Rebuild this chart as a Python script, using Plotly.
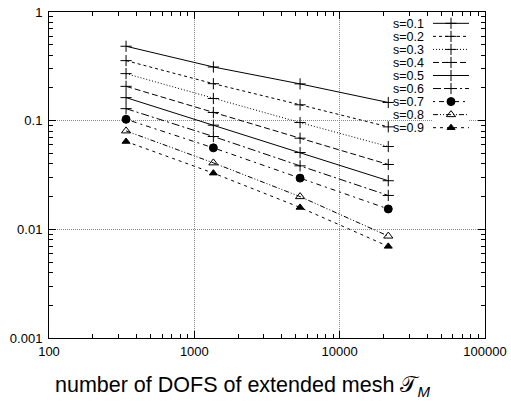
import plotly.graph_objects as go

dofs = [339, 1352, 5340, 21600]
labels = ["s=0.1", "s=0.2", "s=0.3", "s=0.4", "s=0.5", "s=0.6", "s=0.7", "s=0.8", "s=0.9"]
errors = [
    [0.484, 0.312, 0.218, 0.147],
    [0.357, 0.219, 0.140, 0.0877],
    [0.271, 0.160, 0.0961, 0.0578],
    [0.207, 0.119, 0.069, 0.0395],
    [0.163, 0.0909, 0.0509, 0.028],
    [0.129, 0.0715, 0.0384, 0.0205],
    [0.103, 0.0562, 0.0296, 0.0154],
    [0.0805, 0.0409, 0.0200, 0.00867],
    [0.0643, 0.0329, 0.0159, 0.00697],
]
xtick_vals = [100, 1000, 10000, 100000]
xtick_text = ["100", "1000", "10000", "100000"]
ytick_vals = [0.001, 0.01, 0.1, 1]
ytick_text = ["0.001", "0.01", "0.1", "1"]
x_title = "number of DOFS of extended mesh 𝒯<sub><i>M</i></sub>"

dashes = ["solid", "3px,3px", "1px,2px", "6px,3px", "solid",
          "8px,3px,2px,3px", "2px,4px,5px,4px", "5px,2px,1px,2px,1px,2px", "3px,4px"]
symbols = ["cross-thin", "cross-thin", "cross-thin", "cross-thin", "cross-thin",
           "cross-thin", "circle", "triangle-up-open", "triangle-up"]
sizes = [8, 8, 8, 8, 8, 8, 8, 8, 7]

W, H = 511, 403
L, R, T, B = 49, 26, 12, 65
pw, ph = W - L - R, H - T - B


def px_x(x):
    return (x - L) / pw


def px_y(y):
    return 1 - (y - T) / ph


fig = go.Figure()
row_y = [23.3 + 13.05 * i for i in range(len(labels))]
for i, lab in enumerate(labels):
    mk = dict(symbol=symbols[i], size=sizes[i], color="black",
              line=dict(color="black", width=1))
    fig.add_trace(go.Scatter(x=dofs, y=errors[i], mode="lines+markers", name=lab,
                             line=dict(color="black", width=1, dash=dashes[i]),
                             marker=mk, showlegend=False))
    # custom legend sample (gnuplot style: text then line sample)
    fig.add_trace(go.Scatter(x=[0.0, 0.5, 1.0], y=[8 - i] * 3, mode="lines",
                             line=dict(color="black", width=1, dash=dashes[i]),
                             xaxis="x2", yaxis="y2", showlegend=False, hoverinfo="skip"))
    fig.add_trace(go.Scatter(x=[0.5], y=[8 - i], mode="markers", marker=mk,
                             xaxis="x2", yaxis="y2", showlegend=False, hoverinfo="skip"))
    fig.add_annotation(x=px_x(426), y=px_y(row_y[i]), xref="paper", yref="paper", text=lab,
                       showarrow=False, xanchor="right", yanchor="middle", height=13,
                       font=dict(size=12.5, color="black"))

# x-axis title (placed as in the reference)
fig.add_annotation(x=px_x(53), y=px_y(386), xref="paper", yref="paper", text=x_title,
                   showarrow=False, xanchor="left", yanchor="middle",
                   font=dict(size=21.5, color="black"))

lx0, lx1 = px_x(433), px_x(469)
ly_top = px_y(row_y[0] - 6.5)
ly_bot = px_y(row_y[-1] + 6.5)

axis_common = dict(type="log", showline=True, linecolor="black", linewidth=1,
                   mirror="allticks", ticks="inside", ticklen=7, tickcolor="black",
                   showgrid=True, gridcolor="#888888", griddash="1px,1px", gridwidth=1,
                   tickfont=dict(size=13, color="black"), automargin=False,
                   minor=dict(ticks="inside", ticklen=4, tickcolor="black", dtick="D1", showgrid=False))

fig.update_layout(
    width=W, height=H,
    margin=dict(l=L, r=R, t=T, b=B),
    plot_bgcolor="white", paper_bgcolor="white",
    font=dict(family="Liberation Sans, Arial, sans-serif", color="black"),
    xaxis=dict(range=[2, 5], tickvals=xtick_vals, ticktext=xtick_text, ticklabelstandoff=1,
               **axis_common),
    yaxis=dict(range=[-3, 0], tickvals=ytick_vals, ticktext=ytick_text, ticklabelstandoff=3,
               **axis_common),
    xaxis2=dict(domain=[lx0, lx1], range=[0, 1], visible=False, anchor="y2"),
    yaxis2=dict(domain=[ly_bot, ly_top], range=[-0.5, 8.5], visible=False, anchor="x2"),
    showlegend=False,
)

fig.write_html("out.html", config={"displayModeBar": False},
               post_script="document.body.style.margin='0';document.body.style.overflow='hidden';")
